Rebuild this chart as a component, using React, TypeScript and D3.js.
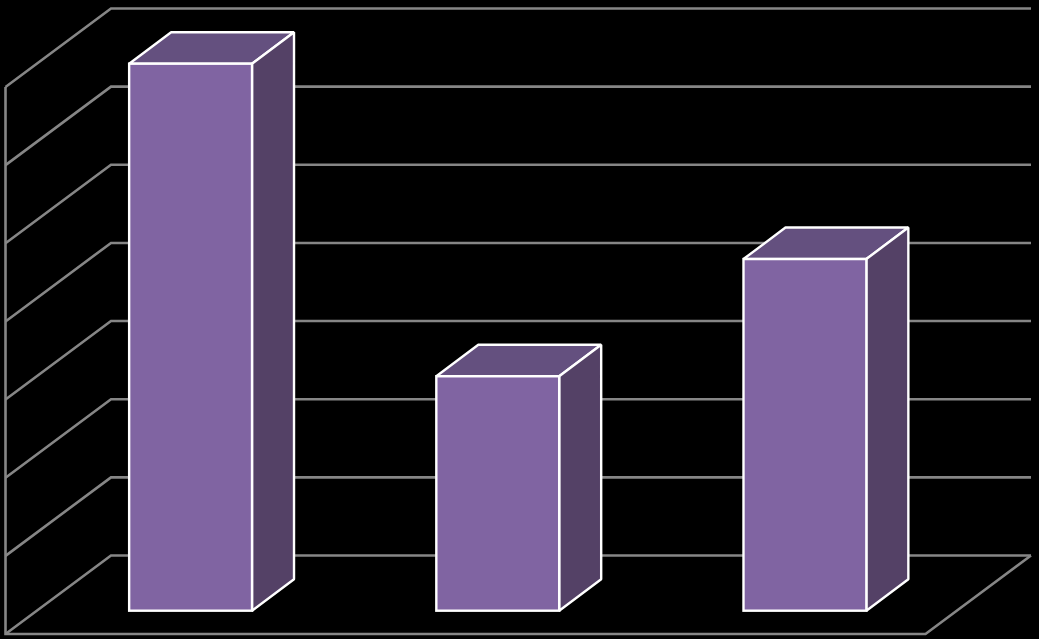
import React from 'react';
import * as d3 from 'd3';

const categories = ['Category 1', 'Category 2', 'Category 3'];
const values = [7, 3, 4.5];
const gridValues = [0, 1, 2, 3, 4, 5, 6, 7];

const width = 1039;
const height = 639;

// projection of the box: offsets from the back wall to the front of the floor
const floorDx = -105.5;
const floorDy = 78.5;
const barDx = 42;
const barDy = -31.5;
const barFrontDy = 55.2;

const y = d3.scaleLinear().domain([0, 7]).range([555.5, 8.5]);
const x = d3.scaleBand<string>()
  .domain(categories)
  .range([5, 926.5])
  .paddingInner(0.6)
  .paddingOuter(0.3);

const barShift = 32;
const poly = d3.line();

export default function App() {
  const wallLeft = 111;
  const wallRight = 1031;
  const floorY = y(0);

  return (
    <svg
      width={width}
      height={height}
      viewBox={`0 0 ${width} ${height}`}
      style={{ position: 'fixed', left: 0, top: 0, background: '#000' }}
    >
      <rect width={width} height={height} fill="#000" />

      {/* walls and gridlines */}
      <g fill="none" stroke="#868686" strokeWidth={2.6}>
        {gridValues.map((v) => (
          <path
            key={v}
            d={poly([
              [wallLeft + floorDx, y(v) + floorDy],
              [wallLeft, y(v)],
              [wallRight, y(v)],
            ]) as string}
          />
        ))}
        <path
          d={poly([
            [wallLeft + floorDx, y(7) + floorDy],
            [wallLeft + floorDx, floorY + floorDy],
            [wallRight + floorDx, floorY + floorDy],
            [wallRight, floorY],
          ]) as string}
        />
      </g>

      {/* bars */}
      <g stroke="#fff" strokeWidth={2.4} strokeLinejoin="bevel">
        {categories.map((c, i) => {
          const x0 = (x(c) as number) + barShift;
          const x1 = x0 + x.bandwidth();
          const top = y(values[i]) + barFrontDy;
          const bottom = y(0) + barFrontDy;
          return (
            <g key={c}>
              <path
                fill="#64507f"
                d={poly([
                  [x0, top],
                  [x0 + barDx, top + barDy],
                  [x1 + barDx, top + barDy],
                  [x1, top],
                ]) as string + 'Z'}
              />
              <path
                fill="#544166"
                d={poly([
                  [x1, top],
                  [x1 + barDx, top + barDy],
                  [x1 + barDx, bottom + barDy],
                  [x1, bottom],
                ]) as string + 'Z'}
              />
              <rect x={x0} y={top} width={x1 - x0} height={bottom - top} fill="#8064a2" strokeLinejoin="miter" />
            </g>
          );
        })}
      </g>
    </svg>
  );
}
